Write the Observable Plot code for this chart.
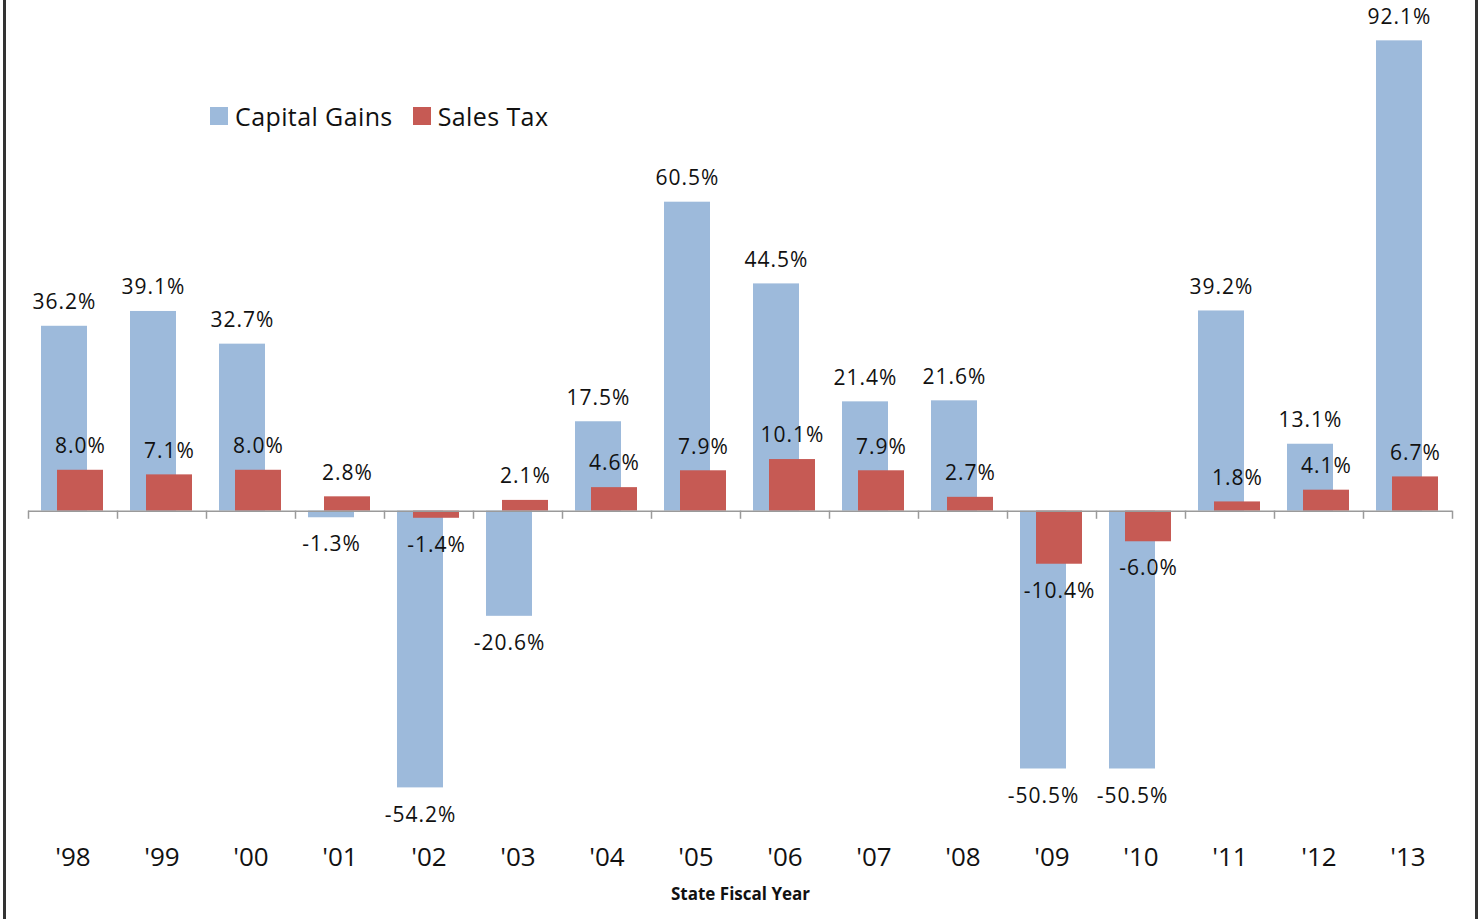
<!DOCTYPE html>
<html>
<head>
<meta charset="utf-8">
<script src="https://cdn.jsdelivr.net/npm/d3@7"></script>
<script src="https://cdn.jsdelivr.net/npm/@observablehq/plot@0.6"></script>
<style>
  html, body { margin: 0; padding: 0; background: #fff; }
  #wrap { position: relative; width: 1480px; height: 919px; overflow: hidden; font-family: "Open Sans", sans-serif; }
  #frame { position: absolute; left: 3px; top: -10px; width: 1469px; height: 940px; border-left: 3px solid #333; border-right: 3px solid #333; pointer-events: none; }
  #legend { position: absolute; left: 210px; top: 99px; display: flex; align-items: center; font-size: 25px; letter-spacing: 0.4px; color: #111; }
  #legend .sw { width: 18px; height: 18px; display: inline-block; margin-right: 7px; }
  #legend .item { display: flex; align-items: center; margin-right: 20px; }
  #chart svg g.vlabel text { letter-spacing: 1px; }
</style>
</head>
<body>
<div id="wrap">
  <div id="chart"></div>
  <div id="legend"></div>
  <div id="frame"></div>
</div>
<script>
const years = ["'98","'99","'00","'01","'02","'03","'04","'05","'06","'07","'08","'09","'10","'11","'12","'13"];
const capitalGains = [36.2, 39.1, 32.7, -1.3, -54.2, -20.6, 17.5, 60.5, 44.5, 21.4, 21.6, -50.5, -50.5, 39.2, 13.1, 92.1];
const salesTax = [8.0, 7.1, 8.0, 2.8, -1.4, 2.1, 4.6, 7.9, 10.1, 7.9, 2.7, -10.4, -6.0, 1.8, 4.1, 6.7];
const seriesNames = ["Capital Gains", "Sales Tax"];
const seriesColors = ["#9DBADB", "#C65A54"];

const data = years.map((year, i) => ({year, cg: capitalGains[i], st: salesTax[i]}));
const fmt = v => v.toFixed(1) + "%";
const labelFont = 21;

const chart = Plot.plot({
  width: 1480,
  height: 919,
  marginLeft: 28,
  marginRight: 28,
  marginTop: 0,
  marginBottom: 102,
  style: {fontFamily: "'Open Sans', sans-serif", color: "#111", background: "#fff"},
  x: {domain: years, padding: 0, axis: null},
  y: {domain: [-60, 100], axis: null},
  marks: [
    Plot.barY(data, {x: "year", y: "cg", fill: seriesColors[0], insetLeft: 13, insetRight: 30}),
    Plot.barY(data, {x: "year", y: "st", fill: seriesColors[1], insetLeft: 29, insetRight: 14}),
    Plot.ruleY([0], {stroke: "#9a9a9a", strokeWidth: 1.5}),
    Plot.ruleX(years, {x: d => d, y1: 0, y2: -1.6, dx: -44.5, stroke: "#9a9a9a", strokeWidth: 1.5}),
    Plot.ruleX(years.slice(-1), {x: d => d, y1: 0, y2: -1.6, dx: 44.5, stroke: "#9a9a9a", strokeWidth: 1.5}),
    Plot.text(data.filter(d => d.cg >= 0), {x: "year", y: "cg", text: d => fmt(d.cg), dx: -8.5, dy: -24, fontSize: labelFont, fill: "#111", className: "vlabel"}),
    Plot.text(data.filter(d => d.cg < 0), {x: "year", y: "cg", text: d => fmt(d.cg), dx: -8.5, dy: 27, fontSize: labelFont, fill: "#111", className: "vlabel"}),
    Plot.text(data.filter(d => d.st >= 0), {x: "year", y: "st", text: d => fmt(d.st), dx: 7.5, dy: -24, fontSize: labelFont, fill: "#111", className: "vlabel"}),
    Plot.text(data.filter(d => d.st < 0), {x: "year", y: "st", text: d => fmt(d.st), dx: 7.5, dy: 27, fontSize: labelFont, fill: "#111", className: "vlabel"}),
    Plot.axisX({domain: years, tickSize: 0, tickPadding: 30, fontSize: 26, label: null, color: "#111"}),
    Plot.text(["State Fiscal Year"], {frameAnchor: "bottom", dy: 82, fontSize: 17, fontWeight: "bold", fill: "#111"})
  ]
});
document.getElementById("chart").appendChild(chart);

const legend = document.getElementById("legend");
seriesNames.forEach((name, i) => {
  const item = document.createElement("div");
  item.className = "item";
  const sw = document.createElement("span");
  sw.className = "sw";
  sw.style.background = seriesColors[i];
  const t = document.createElement("span");
  t.textContent = name;
  item.appendChild(sw);
  item.appendChild(t);
  legend.appendChild(item);
});
</script>
</body>
</html>
